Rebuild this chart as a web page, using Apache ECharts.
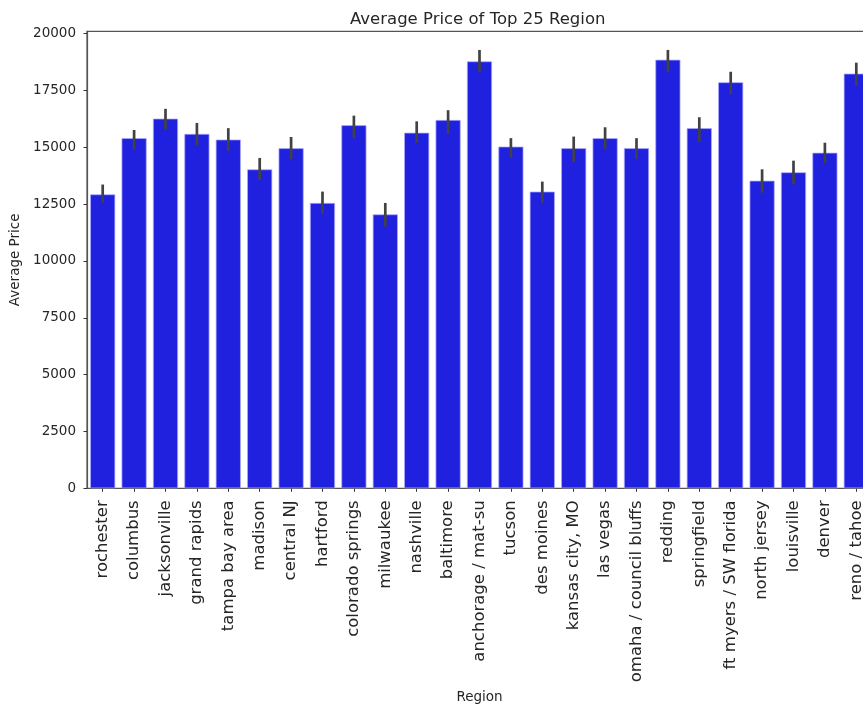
<!DOCTYPE html>
<html>
<head>
<meta charset="utf-8">
<script src="https://cdn.jsdelivr.net/npm/echarts@6/dist/echarts.min.js"></script>
<style>
  html, body { margin: 0; padding: 0; background: #fff; }
  #chart { width: 863px; height: 707px; }
</style>
</head>
<body>
<div id="chart"></div>
<script>
// Regions, ordered as plotted
const regions = [
  'rochester', 'columbus', 'jacksonville', 'grand rapids', 'tampa bay area',
  'madison', 'central NJ', 'hartford', 'colorado springs', 'milwaukee',
  'nashville', 'baltimore', 'anchorage / mat-su', 'tucson', 'des moines',
  'kansas city, MO', 'las vegas', 'omaha / council bluffs', 'redding', 'springfield',
  'ft myers / SW florida', 'north jersey', 'louisville', 'denver', 'reno / tahoe'
];

// Mean price per region
const avgPrice = [
  12930, 15400, 16260, 15590, 15340,
  14030, 14960, 12550, 15970, 12050,
  15640, 16200, 18780, 15030, 13050,
  14960, 15400, 14960, 18850, 15840,
  17860, 13530, 13900, 14760, 18240
];

// Confidence interval bounds
const ciLow = [
  12560, 14910, 15790, 15090, 14840,
  13560, 14470, 12070, 15400, 11510,
  15180, 15590, 18300, 14540, 12560,
  14350, 14930, 14490, 18320, 15230,
  17330, 13000, 13370, 14300, 17720
];
const ciHigh = [
  13360, 15760, 16690, 16070, 15840,
  14530, 15450, 13050, 16390, 12550,
  16140, 16630, 19280, 15400, 13490,
  15470, 15880, 15400, 19280, 16320,
  18320, 14030, 14410, 15200, 18720
];

// Y axis tick values
const yTicks = [0, 2500, 5000, 7500, 10000, 12500, 15000, 17500, 20000];

const textColor = '#262626';
const spineColor = '#555555';

const chart = echarts.init(document.getElementById('chart'), null, { renderer: 'canvas' });

chart.setOption({
  animation: false,
  backgroundColor: '#ffffff',
  textStyle: { fontFamily: 'DejaVu Sans' },
  title: {
    text: 'Average Price of Top 25 Region',
    left: 345,
    top: 6,
    textStyle: { fontFamily: 'DejaVu Sans', fontSize: 16.5, fontWeight: 'normal', color: textColor }
  },
  grid: {
    left: 87,
    top: 31.3,
    width: 785,
    height: 457,
    outerBoundsMode: 'none',
    containLabel: false,
    show: true,
    borderColor: spineColor,
    borderWidth: 1.2,
    backgroundColor: 'transparent'
  },
  xAxis: {
    type: 'category',
    data: regions,
    name: 'Region',
    nameLocation: 'middle',
    nameGap: 197,
    nameTextStyle: { fontFamily: 'DejaVu Sans', fontSize: 13.5, color: textColor },
    axisLine: { show: true, lineStyle: { color: spineColor, width: 1.2 } },
    axisTick: { show: true, alignWithLabel: true, length: 3.5, lineStyle: { color: '#333' } },
    axisLabel: {
      rotate: 90,
      interval: 0,
      margin: 12,
      fontFamily: 'DejaVu Sans',
      fontSize: 16.5,
      color: textColor
    },
    splitLine: { show: false }
  },
  yAxis: {
    type: 'value',
    min: 0,
    max: 20100,
    interval: 2500,
    name: 'Average Price',
    nameLocation: 'middle',
    nameGap: 60,
    nameTextStyle: { fontFamily: 'DejaVu Sans', fontSize: 13.5, color: textColor },
    axisLine: { show: true, lineStyle: { color: spineColor, width: 1.2 } },
    axisTick: { show: true, length: 3.5, lineStyle: { color: '#333' }, customValues: yTicks },
    axisLabel: {
      margin: 11,
      fontFamily: 'DejaVu Sans',
      fontSize: 13.5,
      color: textColor,
      customValues: yTicks,
      formatter: v => String(v)
    },
    splitLine: { show: false }
  },
  series: [
    {
      type: 'bar',
      data: avgPrice,
      barCategoryGap: '20%',
      itemStyle: { color: '#2020df', borderColor: 'rgba(170,170,255,0.9)', borderWidth: 0.8 },
      z: 2
    },
    {
      type: 'custom',
      data: regions.map((r, i) => [i, ciLow[i], ciHigh[i]]),
      z: 3,
      renderItem: function (params, api) {
        const i = api.value(0);
        const p1 = api.coord([i, api.value(1)]);
        const p2 = api.coord([i, api.value(2)]);
        return {
          type: 'line',
          shape: { x1: p1[0], y1: p1[1], x2: p2[0], y2: p2[1] },
          style: { stroke: '#424242', lineWidth: 2.7 }
        };
      }
    }
  ]
});
</script>
</body>
</html>
